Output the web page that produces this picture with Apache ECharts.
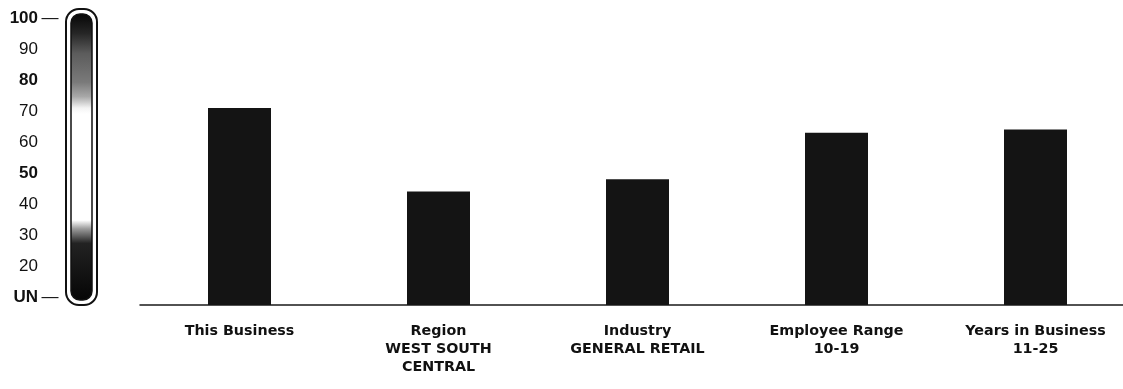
<!DOCTYPE html>
<html>
<head>
<meta charset="utf-8">
<script src="https://cdn.jsdelivr.net/npm/echarts@6/dist/echarts.min.js"></script>
<style>
  html, body { margin: 0; padding: 0; background: #fff; }
  #main { width: 1123px; height: 389px; }
</style>
</head>
<body>
<div id="main"></div>
<script>
// categories under the bars
var categories = [
  'This Business',
  'Region\nWEST SOUTH\nCENTRAL',
  'Industry\nGENERAL RETAIL',
  'Employee Range\n10-19',
  'Years in Business\n11-25'
];
// bar heights read against the gauge scale
var scores = [71, 44, 48, 63, 64];
// gauge scale: 10 is shown as "UN"
var gaugeMin = 10;
var gaugeMax = 100;
var gaugeStep = 10;
var boldTicks = [100, 80, 50, 10];
var dashTicks = [100, 10];

var chart = echarts.init(document.getElementById('main'), null, { renderer: 'canvas' });

var gaugeFill = new echarts.graphic.LinearGradient(0, 0, 0, 1, [
  { offset: 0, color: '#050505' },
  { offset: 0.07, color: '#262626' },
  { offset: 0.14, color: '#5c5c5c' },
  { offset: 0.24, color: '#7a7a7a' },
  { offset: 0.29, color: '#a8a8a8' },
  { offset: 0.33, color: '#f4f4f4' },
  { offset: 0.35, color: '#ffffff' },
  { offset: 0.72, color: '#ffffff' },
  { offset: 0.75, color: '#9a9a9a' },
  { offset: 0.80, color: '#222222' },
  { offset: 1, color: '#050505' }
]);

chart.setOption({
  backgroundColor: '#ffffff',
  animation: false,
  graphic: [
    {
      type: 'rect',
      z: 0,
      shape: { x: 66, y: 9, width: 31, height: 296, r: 13 },
      style: { fill: '#ffffff', stroke: '#111', lineWidth: 2 }
    },
    {
      type: 'rect',
      z: 1,
      shape: { x: 71, y: 14, width: 21, height: 286, r: 9 },
      style: { fill: gaugeFill, stroke: '#111', lineWidth: 1.5 }
    }
  ],
  grid: [
    // gauge labels
    { left: 66, top: 18, width: 31, height: 279, outerBoundsMode: 'none' },
    // bars
    { left: 140, top: 18, width: 995, height: 287, outerBoundsMode: 'none' }
  ],
  xAxis: [
    { gridIndex: 0, type: 'category', data: [''], show: false },
    {
      gridIndex: 1,
      type: 'category',
      data: categories,
      axisLine: { lineStyle: { color: '#1a1a1a', width: 1.5 } },
      axisTick: { alignWithLabel: true, length: 8, lineStyle: { color: '#1a1a1a', width: 1.5 } },
      axisLabel: {
        interval: 0,
        margin: 17,
        color: '#111',
        fontFamily: 'DejaVu Sans',
        fontWeight: 'bold',
        fontSize: 14.3,
        lineHeight: 18
      }
    }
  ],
  yAxis: [
    {
      gridIndex: 0,
      type: 'value',
      min: gaugeMin,
      max: gaugeMax,
      interval: gaugeStep,
      axisLine: { show: false },
      axisTick: { show: false },
      splitLine: { show: false },
      axisLabel: {
        margin: 4,
        formatter: function (v) {
          var txt = v === gaugeMin ? 'UN' : String(v);
          var style = boldTicks.indexOf(v) >= 0 ? 'b' : 'n';
          var tail = dashTicks.indexOf(v) >= 0 ? '{d|—}' : '{s| }';
          return '{' + style + '|' + txt + '}' + tail;
        },
        rich: {
          n: { fontFamily: 'Liberation Sans', fontSize: 17, color: '#111' },
          b: { fontFamily: 'Liberation Sans', fontSize: 17, fontWeight: 'bold', color: '#111' },
          d: { fontFamily: 'Liberation Sans', fontSize: 17, color: '#111', width: 24, align: 'center' },
          s: { fontSize: 17, width: 24 }
        }
      }
    },
    {
      gridIndex: 1,
      type: 'value',
      min: 7.4,
      max: 100,
      show: false,
      splitLine: { show: false }
    }
  ],
  series: [
    {
      type: 'bar',
      xAxisIndex: 1,
      yAxisIndex: 1,
      data: scores,
      barWidth: 63,
      itemStyle: { color: '#141414' }
    }
  ]
});
</script>
</body>
</html>
